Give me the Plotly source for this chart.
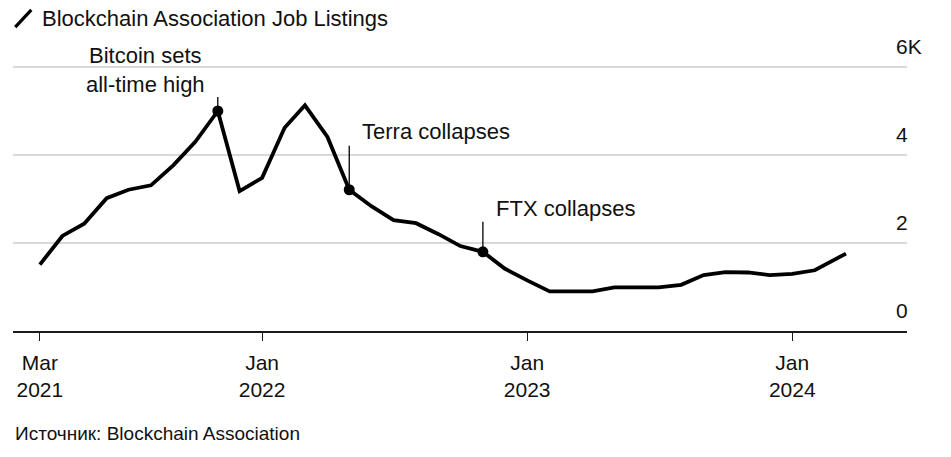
import plotly.graph_objects as go

# Data (job listings, thousands)
dates = [
    "2021-03-01", "2021-04-01", "2021-05-01", "2021-06-01", "2021-07-01", "2021-08-01",
    "2021-09-01", "2021-10-01", "2021-11-01", "2021-12-01",
    "2022-01-01", "2022-02-01", "2022-03-01", "2022-04-01", "2022-05-01", "2022-06-01",
    "2022-07-01", "2022-08-01", "2022-09-01", "2022-10-01", "2022-11-01", "2022-12-01",
    "2023-01-01", "2023-02-01", "2023-03-01", "2023-04-01", "2023-05-01", "2023-06-01",
    "2023-07-01", "2023-08-01", "2023-09-01", "2023-10-01", "2023-11-01", "2023-12-01",
    "2024-01-01", "2024-02-01", "2024-03-15",
]
listings_k = [
    1.51, 2.16, 2.44, 3.02, 3.21, 3.31,
    3.77, 4.30, 5.00, 3.18,
    3.48, 4.62, 5.13, 4.41, 3.21, 2.83,
    2.52, 2.45, 2.20, 1.93, 1.80, 1.42,
    1.15, 0.90, 0.90, 0.90, 0.99, 0.99,
    0.99, 1.05, 1.27, 1.34, 1.33, 1.27,
    1.30, 1.38, 1.76,
]

event_dates = ["2021-11-01", "2022-05-01", "2022-11-01"]
event_values = [5.00, 3.21, 1.80]
event_labels = ["Bitcoin sets<br>all-time high", "Terra collapses", "FTX collapses"]

x_tick_vals = ["2021-03-01", "2022-01-01", "2023-01-01", "2024-01-01"]
x_tick_text = ["Mar<br>2021", "Jan<br>2022", "Jan<br>2023", "Jan<br>2024"]
y_tick_vals = [0, 2, 4, 6]
y_tick_text = ["0", "2", "4", "6K"]

FONT = "Liberation Sans, Arial, sans-serif"
TXT = "#111111"

fig = go.Figure()
fig.add_trace(go.Scatter(
    x=dates, y=listings_k, mode="lines",
    line=dict(color="black", width=3.8), showlegend=False,
    hoverinfo="x+y",
))
fig.add_trace(go.Scatter(
    x=event_dates, y=event_values, mode="markers",
    marker=dict(color="black", size=11), showlegend=False,
))

# leader lines (pixel length above each event point) and label offsets
leader_px = [14, 44, 30]
label_style = [
    dict(xshift=-72, yshift=41, xanchor="center", align="center"),
    dict(xshift=11, yshift=58, xanchor="left", align="left"),
    dict(xshift=11, yshift=43, xanchor="left", align="left"),
]
for d, v, lab, L, st in zip(event_dates, event_values, event_labels, leader_px, label_style):
    fig.add_shape(type="line", xref="x", yref="y", ysizemode="pixel", yanchor=v,
                  x0=d, x1=d, y0=0, y1=L, line=dict(color="black", width=1.3))
    fig.add_annotation(x=d, y=v, xref="x", yref="y", text=lab, showarrow=False,
                       yanchor="middle", font=dict(family=FONT, size=22, color=TXT), **st)

fig.add_annotation(xref="paper", yref="paper", x=0, y=-0.383, xanchor="left", yanchor="middle",
                   text="Источник: Blockchain Association", showarrow=False,
                   font=dict(family=FONT, size=19, color=TXT))

Y_TOP = 6 * 268 / 264  # so that the 6K gridline sits just below the plot top

# title icon
fig.add_shape(type="line", xref="paper", yref="paper",
              x0=0.0025, y0=1.134, x1=0.0205, y1=1.198,
              line=dict(color="black", width=3.2))

fig.update_layout(
    width=951, height=457,
    margin=dict(l=13, r=44, t=63, b=126),
    paper_bgcolor="white", plot_bgcolor="white",
    font=dict(family=FONT, size=20, color=TXT),
    title=dict(text="Blockchain Association Job Listings", x=42 / 951, xref="container",
               xanchor="left", y=1 - 18 / 457, yref="container", yanchor="middle",
               font=dict(family=FONT, size=22, color=TXT)),
    xaxis=dict(
        type="date", range=["2021-01-23", "2024-06-07"],
        tickvals=x_tick_vals, ticktext=x_tick_text,
        showgrid=False, zeroline=False,
        showline=True, linecolor="#1a1a1a", linewidth=1.6,
        ticks="outside", ticklen=8, tickwidth=1.2, tickcolor="#1a1a1a",
        ticklabelstandoff=4,
        tickfont=dict(family=FONT, size=21, color=TXT),
    ),
    yaxis=dict(
        range=[0, Y_TOP], side="right",
        tickvals=y_tick_vals, ticktext=y_tick_text,
        showgrid=True, gridcolor="#d9d9d9", gridwidth=1.5,
        zeroline=False, showline=False, ticks="",
        ticklabelposition="outside", ticklabelstandoff=-12, ticklabelshift=-20,
        tickfont=dict(family=FONT, size=21, color=TXT),
    ),
)

fig.write_html("out.html", config={"displayModeBar": False},
               post_script="document.body.style.margin='0';")
